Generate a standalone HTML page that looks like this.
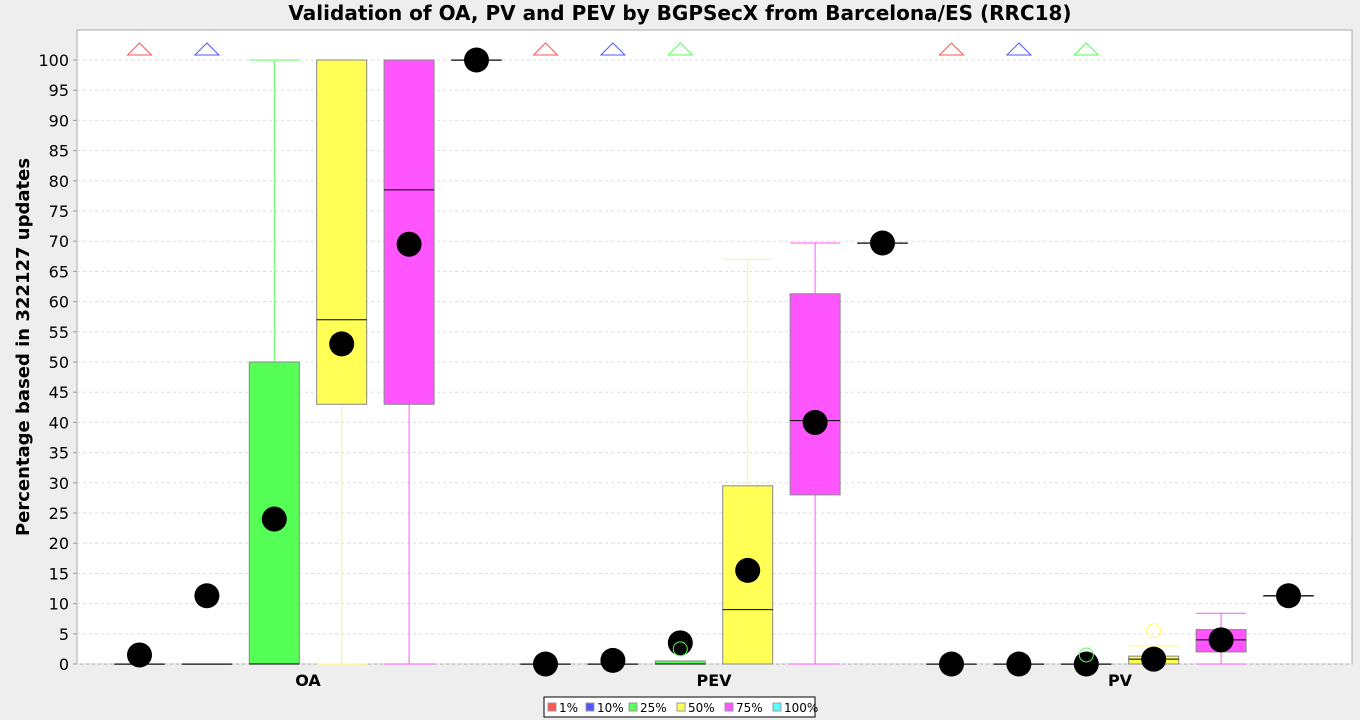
<!DOCTYPE html>
<html><head><meta charset="utf-8"><style>
body{margin:0;background:#eeeeee;font-family:"Liberation Sans","DejaVu Sans",sans-serif;}
svg{display:block}
</style></head><body>
<svg id="chart" width="1360" height="720">
<text x="680" y="20" text-anchor="middle" font-size="20" font-weight="bold" font-family="DejaVu Sans, sans-serif">Validation of OA, PV and PEV by BGPSecX from Barcelona/ES (RRC18)</text>
<rect x="77" y="30" width="1275" height="634" fill="#fff" stroke="#aaa"/>
<g id="grid"></g><g id="marks"></g><g id="axes"></g>
<text transform="translate(29,347) rotate(-90)" text-anchor="middle" font-size="18" font-weight="bold" font-family="DejaVu Sans, sans-serif">Percentage based in 322127 updates</text>
</svg>
<script>
const categories=["OA","PEV","PV"];
const seriesNames=["1%","10%","25%","50%","75%","100%"];
const seriesColors=["#ff5555","#5555ff","#55ff55","#ffff55","#ff55ff","#55ffff"];
// [min,q1,median,q3,max,mean] per category per series
const oaStats=[[0,0,0,0,0,1.5],[0,0,0,0,0,11.3],[0,0,0,50,100,24],[0,43,57,100,100,53],[0,43,78.5,100,100,69.5],[100,100,100,100,100,100]];
const pevStats=[[0,0,0,0,0,0],[0,0,0,0,0,0.6],[0,0,0,0.5,0.5,3.5],[0,0,9,29.5,67,15.5],[0,28,40.3,61.3,69.7,40],[69.7,69.7,69.7,69.7,69.7,69.7]];
const pvStats=[[0,0,0,0,0,0],[0,0,0,0,0,0],[0,0,0,0,0,0],[0,0,0.8,1.3,3,0.8],[0,2,4,5.7,8.4,4],[11.3,11.3,11.3,11.3,11.3,11.3]];
const allStats=[oaStats,pevStats,pvStats];
// outliers: [category, series, value]
const outliers=[[1,2,2.5],[2,2,1.5],[2,3,5.5]];
// far-out markers (triangles): [category, series]
const farOut=[[0,0],[0,1],[1,0],[1,1],[1,2],[2,0],[2,1],[2,2]];
const yTicks=[0,5,10,15,20,25,30,35,40,45,50,55,60,65,70,75,80,85,90,95,100];

const NS="http://www.w3.org/2000/svg";
const y=v=>664-v*6.04;
const catX=i=>308+i*406;
const serX=(c,s)=>catX(c)+(s-2.5)*67.4;
function mk(parent,tag,attrs){const e=document.createElementNS(NS,tag);for(const k in attrs)e.setAttribute(k,attrs[k]);parent.appendChild(e);return e;}
const grid=document.getElementById('grid'),marks=document.getElementById('marks'),axes=document.getElementById('axes');
yTicks.forEach(t=>{
  const g=mk(grid,'line',{x1:77,x2:1352,y1:y(t),y2:y(t),stroke:'#ddd','stroke-dasharray':'3,3'});
  
  
  const l=mk(axes,'text',{x:69,y:y(t)+6,'text-anchor':'end','font-size':16,'font-family':'DejaVu Sans, sans-serif'});
  l.textContent=t;
  
  
  mk(axes,'line',{x1:73,x2:77,y1:y(t),y2:y(t),stroke:'#999'});
});
categories.forEach((c,i)=>{
  const l=mk(axes,'text',{x:catX(i),y:686,'text-anchor':'middle','font-size':16,'font-weight':'bold','font-family':'DejaVu Sans, sans-serif'});
  l.textContent=c;
  
  
});
allStats.forEach((stats,c)=>{
  stats.forEach((st,s)=>{
    const [mn,q1,md,q3,mx,mean]=st;const cx=serX(c,s),col=seriesColors[s];
    const g=mk(marks,'g',{});
    
    
    mk(g,'line',{x1:cx,x2:cx,y1:y(mx),y2:y(q3),stroke:col});
    mk(g,'line',{x1:cx,x2:cx,y1:y(q1),y2:y(mn),stroke:col});
    mk(g,'line',{x1:cx-25,x2:cx+25,y1:y(mx),y2:y(mx),stroke:col});
    mk(g,'line',{x1:cx-25,x2:cx+25,y1:y(mn),y2:y(mn),stroke:col});
    mk(g,'rect',{x:cx-25,y:y(q3),width:50,height:Math.max(y(q1)-y(q3),0.5),fill:col,stroke:'#888'});
    mk(g,'line',{x1:cx-25,x2:cx+25,y1:y(md),y2:y(md),stroke:'#000'});
    mk(g,'circle',{cx:cx,cy:y(mean),r:12.5,fill:'#000'});
  });
});
outliers.forEach(o=>{
  const e=mk(marks,'circle',{cx:serX(o[0],o[1]),cy:y(o[2]),r:7,fill:'none',stroke:seriesColors[o[1]]});
  
  
});
farOut.forEach(f=>{
  const x=serX(f[0],f[1]);
  const e=mk(marks,'polygon',{points:`${x-12},55 ${x+12},55 ${x},43`,fill:'none',stroke:seriesColors[f[1]]});
  
  
});
// legend
const lg=mk(document.getElementById('chart'),'g',{});


mk(lg,'rect',{x:544,y:697,width:271,height:20,fill:'#fff',stroke:'#000'});
let lx=548;const widths=[38,43,48,48,48,52];
seriesNames.forEach((n,i)=>{
  const it=mk(lg,'g',{});
  
  
  mk(it,'rect',{x:lx,y:703,width:8,height:8,fill:seriesColors[i],stroke:'#999'});
  const t=mk(it,'text',{x:lx+11,y:712,'font-size':12,'font-family':'DejaVu Sans, sans-serif'});t.textContent=n;
  lx+=widths[i];
});
</script>
</body></html>
